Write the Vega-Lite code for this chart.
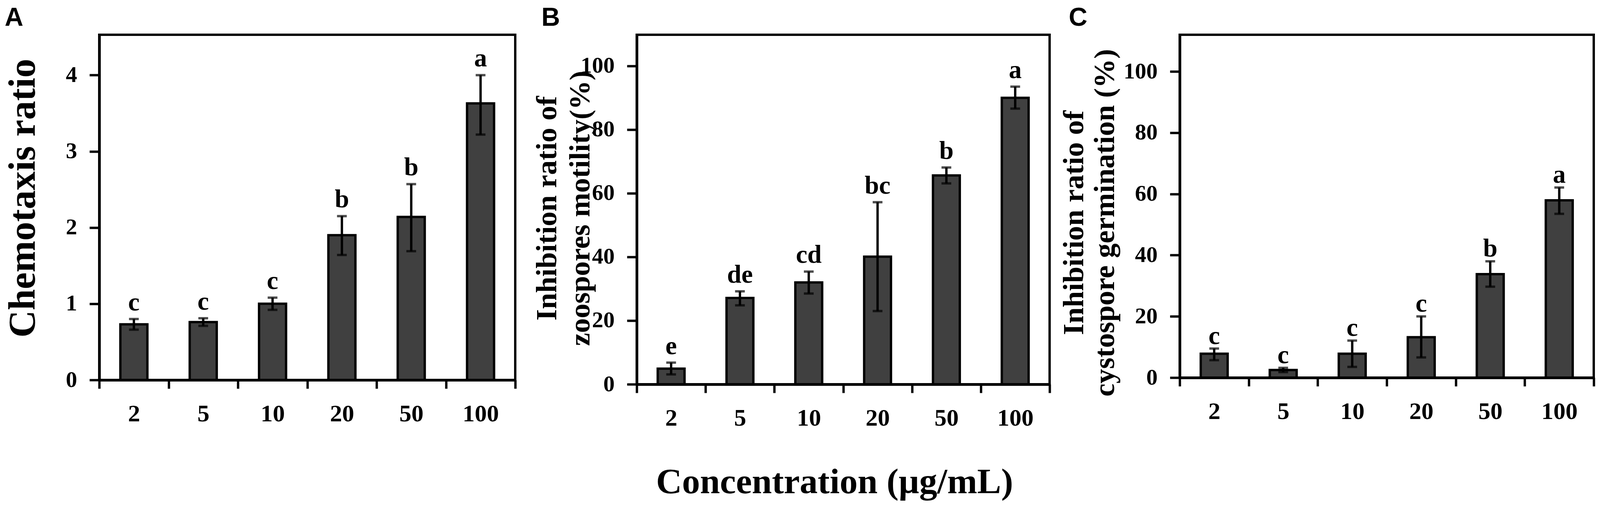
{
  "$schema": "https://vega.github.io/schema/vega-lite/v6.json",
  "background": "white",
  "padding": {"top": 10, "left": 6, "right": 0, "bottom": 0},
  "config": {
    "view": {"stroke": "black", "strokeWidth": 6},
    "font": "Liberation Serif",
    "axis": {
      "grid": false,
      "domainColor": "black",
      "domainWidth": 7,
      "tickColor": "black",
      "tickWidth": 6,
      "labelFont": "Liberation Serif",
      "labelFontWeight": "bold",
      "labelColor": "black",
      "titleFont": "Liberation Serif",
      "titleFontWeight": "bold",
      "titleColor": "black"
    },
    "axisX": {"tickSize": 22, "labelPadding": 34, "labelAngle": 0, "labelFontSize": 62, "tickBand": "extent"},
    "axisY": {"tickSize": 25, "labelPadding": 32, "labelFontSize": 58, "format": "d"},
    "title": {"font": "Liberation Sans", "fontSize": 66, "fontWeight": "bold", "color": "black", "anchor": "start", "frame": "bounds", "baseline": "top", "offset": 9},
    "text": {"font": "Liberation Serif", "fontWeight": "bold", "fontSize": 66, "color": "black", "baseline": "alphabetic"}
  },
  "datasets": {
    "chemotaxis": [
      {"conc": 2, "mean": 0.73, "lo": 0.66, "hi": 0.80, "letter": "c"},
      {"conc": 5, "mean": 0.76, "lo": 0.71, "hi": 0.81, "letter": "c"},
      {"conc": 10, "mean": 1.0, "lo": 0.92, "hi": 1.08, "letter": "c"},
      {"conc": 20, "mean": 1.9, "lo": 1.64, "hi": 2.15, "letter": "b"},
      {"conc": 50, "mean": 2.14, "lo": 1.69, "hi": 2.57, "letter": "b"},
      {"conc": 100, "mean": 3.63, "lo": 3.22, "hi": 4.0, "letter": "a"}
    ],
    "motility": [
      {"conc": 2, "mean": 4.9, "lo": 3.1, "hi": 6.8, "letter": "e"},
      {"conc": 5, "mean": 27.1, "lo": 24.8, "hi": 29.2, "letter": "de"},
      {"conc": 10, "mean": 32.0, "lo": 28.5, "hi": 35.4, "letter": "cd"},
      {"conc": 20, "mean": 40.1, "lo": 23.0, "hi": 57.2, "letter": "bc"},
      {"conc": 50, "mean": 65.6, "lo": 63.1, "hi": 68.1, "letter": "b"},
      {"conc": 100, "mean": 90.0, "lo": 86.6, "hi": 93.5, "letter": "a"}
    ],
    "germination": [
      {"conc": 2, "mean": 7.8, "lo": 5.7, "hi": 9.5, "letter": "c"},
      {"conc": 5, "mean": 2.5, "lo": 1.8, "hi": 3.2, "letter": "c"},
      {"conc": 10, "mean": 7.8, "lo": 3.5, "hi": 12.1, "letter": "c"},
      {"conc": 20, "mean": 13.2, "lo": 6.6, "hi": 20.0, "letter": "c"},
      {"conc": 50, "mean": 33.8, "lo": 29.7, "hi": 38.0, "letter": "b"},
      {"conc": 100, "mean": 57.9, "lo": 53.5, "hi": 62.1, "letter": "a"}
    ]
  },
  "spacing": 34,
  "hconcat": [
    {
      "title": {"text": "A", "dx": 2},
      "width": 1065,
      "height": 884,
      "data": {"name": "chemotaxis"},
      "encoding": {
        "x": {"field": "conc", "type": "ordinal", "scale": {"paddingInner": 0, "paddingOuter": 0}, "axis": {"title": null}}
      },
      "layer": [
        {
          "mark": {"type": "bar", "fill": "#404040", "stroke": "black", "strokeWidth": 6, "width": {"band": 0.39}},
          "encoding": {
            "y": {
              "field": "mean", "type": "quantitative",
              "scale": {"domain": [0, 4.53], "nice": false},
              "axis": {"values": [0, 1, 2, 3, 4], "title": "Chemotaxis ratio", "titleFontSize": 97, "titleAngle": -90, "titleBaseline": "middle", "titleAlign": "center", "titleX": -195, "titleY": 418}
            }
          }
        },
        {
          "mark": {"type": "errorbar", "ticks": true, "size": 25, "thickness": 6, "color": "black"},
          "encoding": {
            "y": {"field": "lo", "type": "quantitative", "title": "Chemotaxis ratio"},
            "y2": {"field": "hi"}
          }
        },
        {
          "mark": {"type": "text", "dy": -22},
          "encoding": {
            "y": {"field": "hi", "type": "quantitative", "title": "Chemotaxis ratio"},
            "text": {"field": "letter"}
          }
        }
      ]
    },
    {
      "spacing": 15,
      "hconcat": [
        {
          "title": {"text": "B", "dx": 23},
          "width": 1057,
          "height": 895,
          "data": {"name": "motility"},
          "encoding": {
            "x": {
              "field": "conc", "type": "ordinal", "scale": {"paddingInner": 0, "paddingOuter": 0},
              "axis": {"title": "Concentration (µg/mL)", "titleFontSize": 92, "titleBaseline": "alphabetic", "titleX": 506, "titleY": 278}
            }
          },
          "layer": [
            {
              "mark": {"type": "bar", "fill": "#404040", "stroke": "black", "strokeWidth": 6, "width": {"band": 0.39}},
              "encoding": {
                "y": {
                  "field": "mean", "type": "quantitative",
                  "scale": {"domain": [0, 109.8], "nice": false},
                  "axis": {"values": [0, 20, 40, 60, 80, 100], "title": ["Inhibition ratio of", "zoospores motility(%)"], "titleFontSize": 75, "titleLineHeight": 85, "titleAngle": -90, "titleBaseline": "middle", "titleAlign": "center", "titleX": -230, "titleY": 444}
                }
              }
            },
            {
              "mark": {"type": "errorbar", "ticks": true, "size": 25, "thickness": 6, "color": "black"},
              "encoding": {
                "y": {"field": "lo", "type": "quantitative", "title": ["Inhibition ratio of", "zoospores motility(%)"]},
                "y2": {"field": "hi"}
              }
            },
            {
              "mark": {"type": "text", "dy": -22},
              "encoding": {
                "y": {"field": "hi", "type": "quantitative", "title": ["Inhibition ratio of", "zoospores motility(%)"]},
                "text": {"field": "letter"}
              }
            }
          ]
        },
        {
          "title": {"text": "C", "dx": 24},
          "width": 1060,
          "height": 878,
          "data": {"name": "germination"},
          "encoding": {
            "x": {"field": "conc", "type": "ordinal", "scale": {"paddingInner": 0, "paddingOuter": 0}, "axis": {"title": null}}
          },
          "layer": [
            {
              "mark": {"type": "bar", "fill": "#404040", "stroke": "black", "strokeWidth": 6, "width": {"band": 0.39}},
              "encoding": {
                "y": {
                  "field": "mean", "type": "quantitative",
                  "scale": {"domain": [0, 112], "nice": false},
                  "axis": {"values": [0, 20, 40, 60, 80, 100], "title": ["Inhibition ratio of", "cystospore germination (%)"], "titleFontSize": 75, "titleLineHeight": 79, "titleAngle": -90, "titleBaseline": "middle", "titleAlign": "center", "titleX": -271, "titleY": 481}
                }
              }
            },
            {
              "mark": {"type": "errorbar", "ticks": true, "size": 25, "thickness": 6, "color": "black"},
              "encoding": {
                "y": {"field": "lo", "type": "quantitative", "title": ["Inhibition ratio of", "cystospore germination (%)"]},
                "y2": {"field": "hi"}
              }
            },
            {
              "mark": {"type": "text", "dy": -12},
              "encoding": {
                "y": {"field": "hi", "type": "quantitative", "title": ["Inhibition ratio of", "cystospore germination (%)"]},
                "text": {"field": "letter"}
              }
            }
          ]
        }
      ]
    }
  ]
}
